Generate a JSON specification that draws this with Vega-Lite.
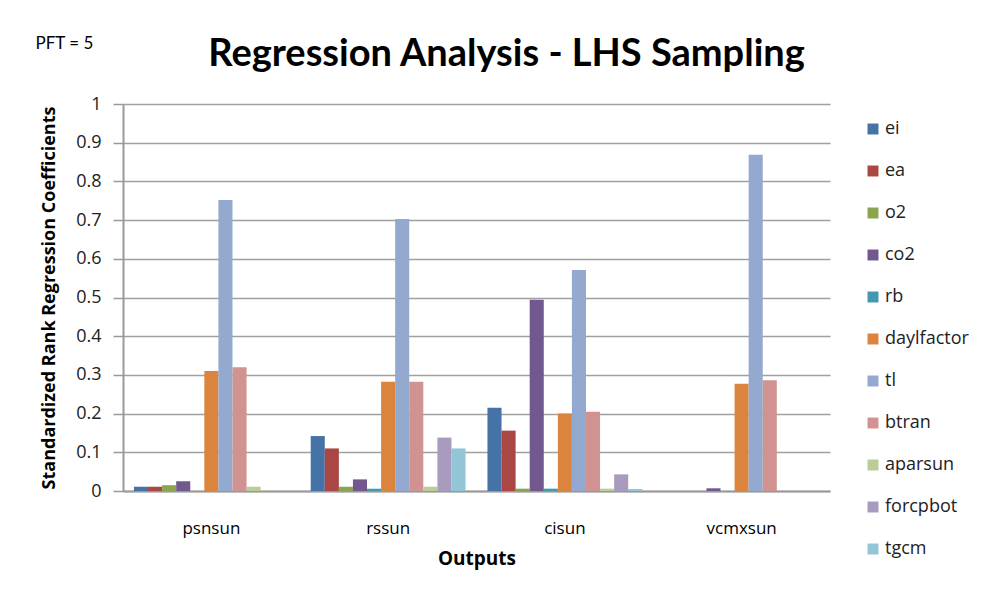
{
  "$schema": "https://vega.github.io/schema/vega-lite/v6.json",
  "width": 707,
  "height": 387,
  "autosize": "none",
  "padding": {"left": 123, "top": 104, "right": 178, "bottom": 108},
  "background": "white",
  "config": {
    "font": "Open Sans",
    "view": {"stroke": null}
  },
  "title": {
    "text": "Regression Analysis - LHS Sampling",
    "font": "Lato",
    "fontSize": 38,
    "fontWeight": "bold",
    "color": "#000000",
    "anchor": "middle",
    "dx": 30,
    "offset": -40
  },
  "data": {
    "values": [
      {"output": "psnsun", "param": "ei", "value": 0.011},
      {"output": "psnsun", "param": "ea", "value": 0.011},
      {"output": "psnsun", "param": "o2", "value": 0.015},
      {"output": "psnsun", "param": "co2", "value": 0.025},
      {"output": "psnsun", "param": "rb", "value": 0.0},
      {"output": "psnsun", "param": "daylfactor", "value": 0.31},
      {"output": "psnsun", "param": "tl", "value": 0.752},
      {"output": "psnsun", "param": "btran", "value": 0.32},
      {"output": "psnsun", "param": "aparsun", "value": 0.011},
      {"output": "psnsun", "param": "forcpbot", "value": 0.0},
      {"output": "psnsun", "param": "tgcm", "value": 0.0},
      {"output": "rssun", "param": "ei", "value": 0.142},
      {"output": "rssun", "param": "ea", "value": 0.11},
      {"output": "rssun", "param": "o2", "value": 0.011},
      {"output": "rssun", "param": "co2", "value": 0.03},
      {"output": "rssun", "param": "rb", "value": 0.006},
      {"output": "rssun", "param": "daylfactor", "value": 0.282},
      {"output": "rssun", "param": "tl", "value": 0.703},
      {"output": "rssun", "param": "btran", "value": 0.282},
      {"output": "rssun", "param": "aparsun", "value": 0.011},
      {"output": "rssun", "param": "forcpbot", "value": 0.138},
      {"output": "rssun", "param": "tgcm", "value": 0.11},
      {"output": "cisun", "param": "ei", "value": 0.215},
      {"output": "cisun", "param": "ea", "value": 0.156},
      {"output": "cisun", "param": "o2", "value": 0.006},
      {"output": "cisun", "param": "co2", "value": 0.494},
      {"output": "cisun", "param": "rb", "value": 0.006},
      {"output": "cisun", "param": "daylfactor", "value": 0.2},
      {"output": "cisun", "param": "tl", "value": 0.571},
      {"output": "cisun", "param": "btran", "value": 0.205},
      {"output": "cisun", "param": "aparsun", "value": 0.006},
      {"output": "cisun", "param": "forcpbot", "value": 0.043},
      {"output": "cisun", "param": "tgcm", "value": 0.005},
      {"output": "vcmxsun", "param": "ei", "value": 0.0},
      {"output": "vcmxsun", "param": "ea", "value": 0.0},
      {"output": "vcmxsun", "param": "o2", "value": 0.0},
      {"output": "vcmxsun", "param": "co2", "value": 0.007},
      {"output": "vcmxsun", "param": "rb", "value": 0.0},
      {"output": "vcmxsun", "param": "daylfactor", "value": 0.277},
      {"output": "vcmxsun", "param": "tl", "value": 0.869},
      {"output": "vcmxsun", "param": "btran", "value": 0.286},
      {"output": "vcmxsun", "param": "aparsun", "value": 0.0},
      {"output": "vcmxsun", "param": "forcpbot", "value": 0.0},
      {"output": "vcmxsun", "param": "tgcm", "value": 0.0}
    ]
  },
  "resolve": {"axis": {"x": "independent"}},
  "encoding": {
    "y": {
      "field": "value",
      "type": "quantitative",
      "scale": {"domain": [0, 1], "nice": false},
      "axis": {
        "title": "Standardized    Rank    Regression    Coefficients",
        "titleFont": "Open Sans",
        "titleFontSize": 18,
        "titleFontWeight": "bold",
        "titleColor": "#000000",
        "titlePadding": 17,
        "values": [0, 0.1, 0.2, 0.3, 0.4, 0.5, 0.6, 0.7, 0.8, 0.9, 1],
        "labelExpr": "datum.value == 0 ? '0' : datum.value == 1 ? '1' : format(datum.value, '.1f')",
        "labelFont": "Open Sans",
        "labelFontSize": 18,
        "labelColor": "#222222",
        "labelPadding": 12,
        "labelOverlap": false,
        "tickSize": 10,
        "tickColor": "#9a9a9a",
        "tickWidth": 1.5,
        "domainColor": "#9a9a9a",
        "domainWidth": 2,
        "gridColor": "#a0a0a0",
        "gridWidth": 1.5
      }
    }
  },
  "layer": [
    {
      "mark": {"type": "bar"},
      "encoding": {
        "x": {
          "field": "output",
          "type": "nominal",
          "sort": ["psnsun", "rssun", "cisun", "vcmxsun"],
          "scale": {"paddingInner": 0.124, "paddingOuter": 0.062},
          "axis": {
            "title": "Outputs",
            "titleFont": "Open Sans",
            "titleFontSize": 19,
            "titleFontWeight": "bold",
            "titleColor": "#000000",
            "titlePadding": 13,
            "labelAngle": 0,
            "labelFont": "Open Sans",
            "labelFontSize": 17,
            "labelColor": "#000000",
            "labelPadding": 29,
            "ticks": false,
            "domainColor": "#9a9a9a",
            "domainWidth": 2,
            "grid": false
          }
        },
        "xOffset": {
          "field": "param",
          "type": "nominal",
          "sort": ["ei", "ea", "o2", "co2", "rb", "daylfactor", "tl", "btran", "aparsun", "forcpbot", "tgcm"],
          "scale": {"paddingInner": 0, "paddingOuter": 0}
        },
        "color": {
          "field": "param",
          "type": "nominal",
          "sort": ["ei", "ea", "o2", "co2", "rb", "daylfactor", "tl", "btran", "aparsun", "forcpbot", "tgcm"],
          "scale": {
            "domain": ["ei", "ea", "o2", "co2", "rb", "daylfactor", "tl", "btran", "aparsun", "forcpbot", "tgcm"],
            "range": ["#4572A7", "#AA4643", "#89A54E", "#71588F", "#4198AF", "#DB843D", "#93A9CF", "#D19392", "#B9CD96", "#A99BBD", "#92C5D6"]
          },
          "legend": {
            "title": null,
            "orient": "none",
            "legendX": 741,
            "legendY": 16,
            "symbolType": "square",
            "symbolSize": 120,
            "symbolStrokeWidth": 0,
            "labelFontSize": 18,
            "labelFont": "Open Sans",
            "labelColor": "#222222",
            "labelOffset": 3,
            "rowPadding": 24
          }
        }
      }
    },
    {
      "mark": {"type": "tick", "opacity": 0},
      "encoding": {
        "x": {
          "field": "output",
          "type": "nominal",
          "sort": ["psnsun", "rssun", "cisun", "vcmxsun"],
          "axis": {
            "orient": "top",
            "title": "PFT = 5",
            "titleFont": "Lato",
            "titleFontSize": 17,
            "titleFontWeight": "normal",
            "titleColor": "#000000",
            "titleX": -88,
            "titleY": -56,
            "titleAlign": "left",
            "titleBaseline": "alphabetic",
            "titleAnchor": null,
            "labels": false,
            "ticks": false,
            "domain": false,
            "grid": false
          }
        }
      }
    }
  ]
}
